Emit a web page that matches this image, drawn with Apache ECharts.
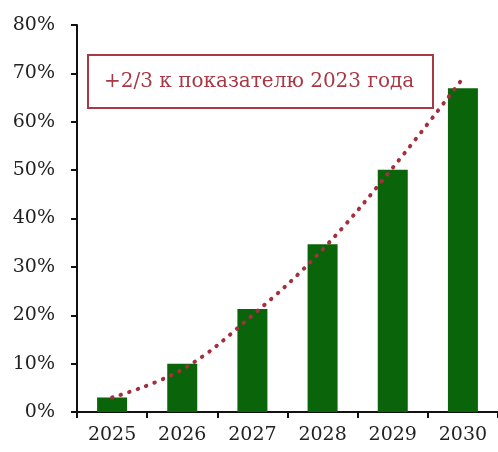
<!DOCTYPE html>
<html>
<head>
<meta charset="utf-8">
<script src="https://cdn.jsdelivr.net/npm/echarts@6/dist/echarts.min.js"></script>
<style>
  html, body { margin: 0; padding: 0; background: #fff; }
  #chart { width: 498px; height: 452px; }
</style>
</head>
<body>
<div id="chart"></div>
<script>
// годы и значения (в % к 2023 году)
const years = ['2025', '2026', '2027', '2028', '2029', '2030'];
const barValues = [3, 10, 21.3, 34.7, 50.1, 66.9];
const trendValues = [3, 8.8, 20, 33.6, 50.5, 69];
const noteText = '+2/3 к показателю 2023 года';

const FONT = '"DejaVu Serif", "Liberation Serif", serif';

var myChart = echarts.init(document.getElementById('chart'));
let option = {
    animation: false,
    grid: { left: 77, right: 0, top: 25, bottom: 40 },
    xAxis: {
        type: 'category',
        data: years,
        axisLine: { lineStyle: { color: '#111', width: 2 } },
        axisTick: { show: true, length: 6, lineStyle: { color: '#111', width: 2 } },
        axisLabel: { color: '#222', fontFamily: FONT, fontSize: 19, margin: 14 }
    },
    yAxis: {
        type: 'value',
        min: 0,
        max: 80,
        interval: 10,
        splitLine: { show: false },
        axisLine: { show: true, lineStyle: { color: '#111', width: 2 } },
        axisTick: { show: true, length: 6, lineStyle: { color: '#111', width: 2 } },
        axisLabel: { color: '#222', fontFamily: FONT, fontSize: 19, margin: 22, formatter: '{value}%' }
    },
    series: [
        {
            type: 'bar',
            data: barValues,
            barWidth: 30,
            itemStyle: { color: '#0a640a' }
        },
        {
            type: 'line',
            data: trendValues,
            smooth: 0.4,
            symbol: 'none',
            z: 5,
            lineStyle: { color: '#a3303f', width: 4, type: [0.5, 8.5], cap: 'round' }
        }
    ],
    graphic: [
        {   // рамка с подписью
            type: 'group',
            left: 87,
            top: 54,
            children: [
                {
                    type: 'rect',
                    shape: { x: 0, y: 0, width: 345, height: 53 },
                    style: { fill: '#fff', stroke: '#a83843', lineWidth: 2 }
                },
                {
                    type: 'text',
                    x: 16,
                    y: 27,
                    style: {
                        text: noteText,
                        fill: '#a83843',
                        font: '20px ' + FONT,
                        textVerticalAlign: 'middle'
                    }
                }
            ]
        }
    ]
};
myChart.setOption(option);
</script>
</body>
</html>
